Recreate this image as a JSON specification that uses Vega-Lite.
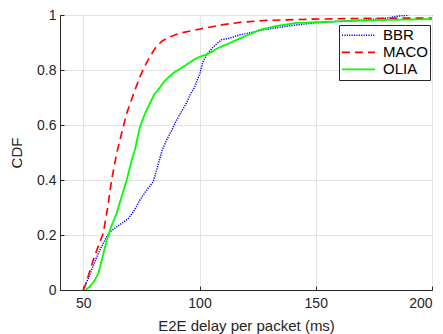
{
  "$schema": "https://vega.github.io/schema/vega-lite/v6.json",
  "width": 372,
  "height": 275,
  "autosize": {"type": "none"},
  "padding": {"left": 60, "top": 15, "right": 11, "bottom": 44},
  "background": "white",
  "config": {
    "font": "Liberation Sans",
    "view": {"stroke": "#262626", "strokeWidth": 1},
    "axis": {
      "gridColor": "#e3e3e3",
      "gridWidth": 1,
      "domainColor": "#262626",
      "tickColor": "#262626",
      "tickSize": -4,
      "labelFont": "Liberation Sans",
      "titleFont": "Liberation Sans",
      "labelFontSize": 14,
      "titleFontSize": 15,
      "labelColor": "#262626",
      "titleColor": "#262626",
      "titleFontWeight": "normal"
    }
  },
  "data": {
    "values": [
      {"s": "BBR", "x": 50, "y": 0},
      {"s": "BBR", "x": 51, "y": 0.02},
      {"s": "BBR", "x": 53, "y": 0.06},
      {"s": "BBR", "x": 55.8, "y": 0.12},
      {"s": "BBR", "x": 58, "y": 0.16},
      {"s": "BBR", "x": 60.1, "y": 0.194},
      {"s": "BBR", "x": 62, "y": 0.215},
      {"s": "BBR", "x": 64.4, "y": 0.23},
      {"s": "BBR", "x": 67, "y": 0.245},
      {"s": "BBR", "x": 69.4, "y": 0.26},
      {"s": "BBR", "x": 72, "y": 0.29},
      {"s": "BBR", "x": 74.4, "y": 0.328},
      {"s": "BBR", "x": 77, "y": 0.36},
      {"s": "BBR", "x": 80.1, "y": 0.394},
      {"s": "BBR", "x": 82, "y": 0.45},
      {"s": "BBR", "x": 84, "y": 0.51},
      {"s": "BBR", "x": 85.9, "y": 0.546},
      {"s": "BBR", "x": 88, "y": 0.58},
      {"s": "BBR", "x": 90.2, "y": 0.619},
      {"s": "BBR", "x": 92, "y": 0.645},
      {"s": "BBR", "x": 94.4, "y": 0.68},
      {"s": "BBR", "x": 96, "y": 0.71},
      {"s": "BBR", "x": 98, "y": 0.74},
      {"s": "BBR", "x": 100.2, "y": 0.789},
      {"s": "BBR", "x": 101.5, "y": 0.83},
      {"s": "BBR", "x": 103, "y": 0.855},
      {"s": "BBR", "x": 106, "y": 0.885},
      {"s": "BBR", "x": 109.5, "y": 0.91},
      {"s": "BBR", "x": 113, "y": 0.916},
      {"s": "BBR", "x": 117.4, "y": 0.928},
      {"s": "BBR", "x": 127.4, "y": 0.946},
      {"s": "BBR", "x": 138, "y": 0.96},
      {"s": "BBR", "x": 148.9, "y": 0.971},
      {"s": "BBR", "x": 160, "y": 0.977},
      {"s": "BBR", "x": 173.2, "y": 0.983},
      {"s": "BBR", "x": 180, "y": 0.988},
      {"s": "BBR", "x": 184.7, "y": 0.995},
      {"s": "BBR", "x": 190, "y": 1.0},
      {"s": "MACO", "x": 50, "y": 0},
      {"s": "MACO", "x": 51, "y": 0.02},
      {"s": "MACO", "x": 52.5, "y": 0.06},
      {"s": "MACO", "x": 54.3, "y": 0.109},
      {"s": "MACO", "x": 56.5, "y": 0.16},
      {"s": "MACO", "x": 58.6, "y": 0.206},
      {"s": "MACO", "x": 60.5, "y": 0.3},
      {"s": "MACO", "x": 62.2, "y": 0.4},
      {"s": "MACO", "x": 64.4, "y": 0.498},
      {"s": "MACO", "x": 66.5, "y": 0.57},
      {"s": "MACO", "x": 68.7, "y": 0.643},
      {"s": "MACO", "x": 71.5, "y": 0.71},
      {"s": "MACO", "x": 74.4, "y": 0.776},
      {"s": "MACO", "x": 76.5, "y": 0.815},
      {"s": "MACO", "x": 78.7, "y": 0.849},
      {"s": "MACO", "x": 81, "y": 0.88},
      {"s": "MACO", "x": 83.7, "y": 0.904},
      {"s": "MACO", "x": 87, "y": 0.92},
      {"s": "MACO", "x": 91.6, "y": 0.934},
      {"s": "MACO", "x": 100.2, "y": 0.949},
      {"s": "MACO", "x": 110.2, "y": 0.965},
      {"s": "MACO", "x": 117.4, "y": 0.973},
      {"s": "MACO", "x": 127.4, "y": 0.98},
      {"s": "MACO", "x": 148.9, "y": 0.985},
      {"s": "MACO", "x": 175, "y": 0.988},
      {"s": "MACO", "x": 200, "y": 0.989},
      {"s": "OLIA", "x": 51, "y": 0},
      {"s": "OLIA", "x": 52.5, "y": 0.01},
      {"s": "OLIA", "x": 54.5, "y": 0.03},
      {"s": "OLIA", "x": 56.5, "y": 0.06},
      {"s": "OLIA", "x": 58, "y": 0.11},
      {"s": "OLIA", "x": 60.1, "y": 0.18},
      {"s": "OLIA", "x": 62, "y": 0.23},
      {"s": "OLIA", "x": 64.4, "y": 0.28},
      {"s": "OLIA", "x": 66.5, "y": 0.34},
      {"s": "OLIA", "x": 68.7, "y": 0.4},
      {"s": "OLIA", "x": 70.8, "y": 0.47},
      {"s": "OLIA", "x": 72.2, "y": 0.51},
      {"s": "OLIA", "x": 74.4, "y": 0.594},
      {"s": "OLIA", "x": 76.5, "y": 0.64},
      {"s": "OLIA", "x": 78.7, "y": 0.68},
      {"s": "OLIA", "x": 80.5, "y": 0.71},
      {"s": "OLIA", "x": 82.2, "y": 0.728},
      {"s": "OLIA", "x": 85, "y": 0.76},
      {"s": "OLIA", "x": 88.7, "y": 0.789},
      {"s": "OLIA", "x": 93, "y": 0.812},
      {"s": "OLIA", "x": 98.7, "y": 0.843},
      {"s": "OLIA", "x": 104.5, "y": 0.862},
      {"s": "OLIA", "x": 108, "y": 0.88},
      {"s": "OLIA", "x": 113, "y": 0.898},
      {"s": "OLIA", "x": 117.4, "y": 0.915},
      {"s": "OLIA", "x": 126, "y": 0.946},
      {"s": "OLIA", "x": 133, "y": 0.96},
      {"s": "OLIA", "x": 141.7, "y": 0.971},
      {"s": "OLIA", "x": 160.3, "y": 0.977},
      {"s": "OLIA", "x": 180, "y": 0.982},
      {"s": "OLIA", "x": 200, "y": 0.985}
    ]
  },
  "mark": {"type": "line", "clip": true},
  "encoding": {
    "x": {
      "field": "x", "type": "quantitative",
      "scale": {"domain": [40, 200], "nice": false, "zero": false},
      "axis": {"values": [50, 100, 150, 200], "title": "E2E delay per packet (ms)", "labelPadding": 10, "titlePadding": 8}
    },
    "y": {
      "field": "y", "type": "quantitative",
      "scale": {"domain": [0, 1], "nice": false},
      "axis": {"values": [0, 0.2, 0.4, 0.6, 0.8, 1], "format": ".1~f", "title": "CDF", "labelPadding": 8, "titlePadding": 12}
    },
    "color": {
      "field": "s", "type": "nominal",
      "scale": {"domain": ["BBR", "MACO", "OLIA"], "range": ["#0000ff", "#ff0000", "#00ff00"]},
      "legend": {
        "title": null,
        "orient": "none",
        "legendX": 279,
        "legendY": 10,
        "strokeColor": "#262626",
        "fillColor": "white",
        "padding": 2,
        "symbolType": "stroke",
        "symbolSize": 1100,
        "symbolStrokeWidth": 1.8,
        "labelFontSize": 15,
        "labelColor": "#000000",
        "labelOffset": 7,
        "clipHeight": 16.7,
        "rowPadding": 0,
        "cornerRadius": 0
      }
    },
    "strokeDash": {
      "field": "s", "type": "nominal",
      "scale": {"domain": ["BBR", "MACO", "OLIA"], "range": [[1.2, 1.2], [8, 5], [1, 0]]},
      "legend": null
    },
    "strokeWidth": {
      "field": "s", "type": "nominal",
      "scale": {"domain": ["BBR", "MACO", "OLIA"], "range": [1.5, 1.8, 2.5]},
      "legend": null
    }
  }
}
